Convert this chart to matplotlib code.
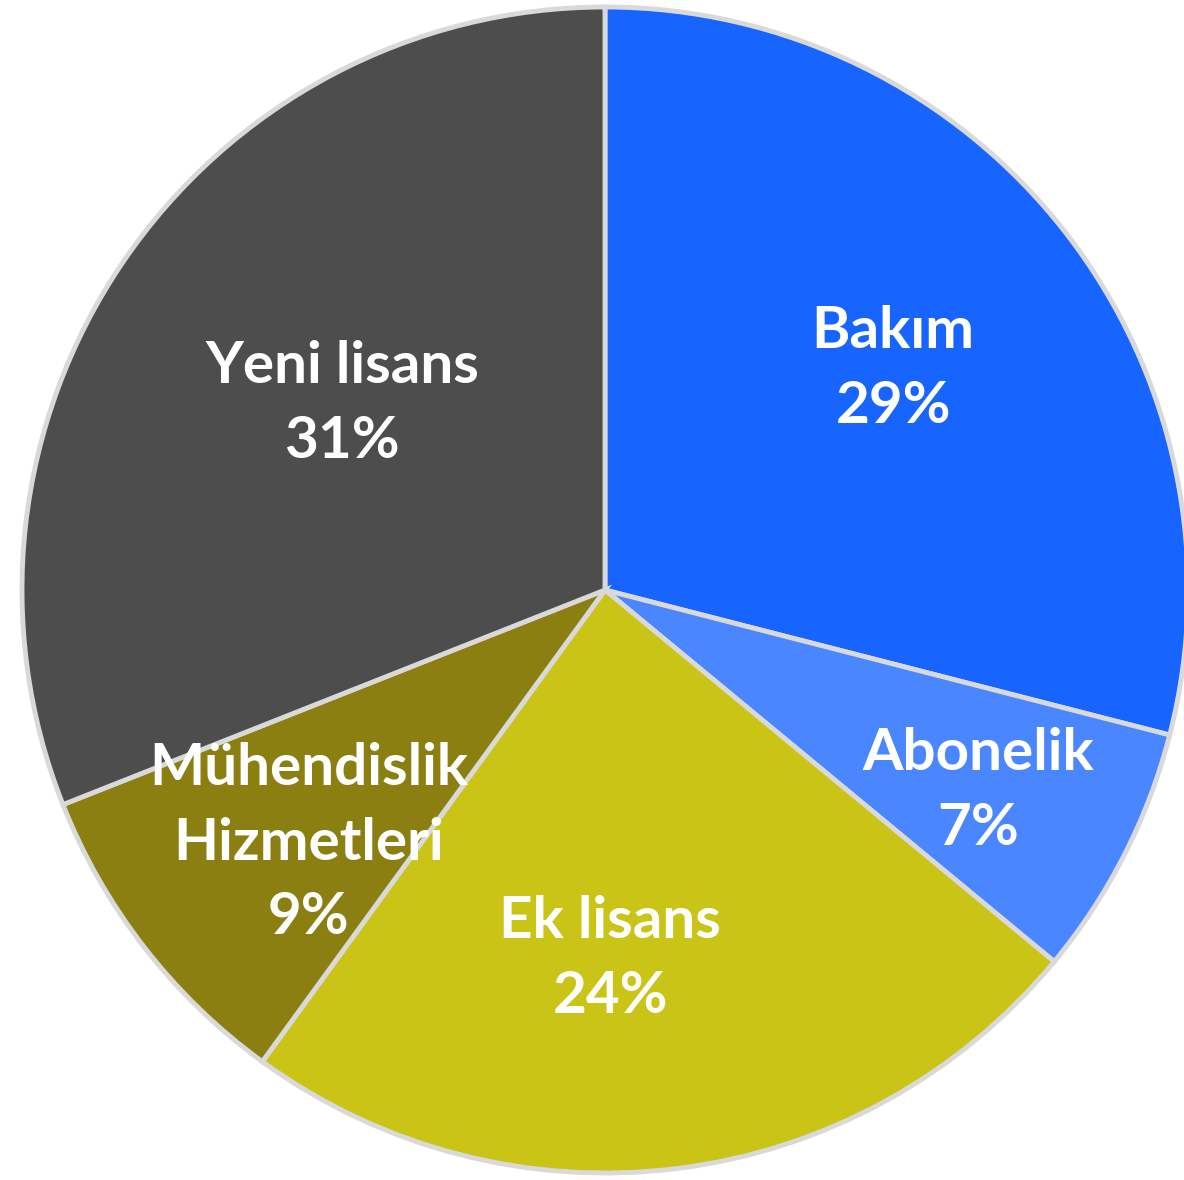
import matplotlib.pyplot as plt

# Slice data (clockwise from 12 o'clock)
labels = ['Bakım', 'Abonelik', 'Ek lisans', 'Mühendislik\nHizmetleri', 'Yeni lisans']
shares = [29, 7, 24, 9, 31]
colors = ['#1764FF', '#4A86FF', '#C9C415', '#8A7F10', '#4D4D4D']
# label centres, in units of the pie radius
label_x = [0.494, 0.640, 0.009, -0.509, -0.451]
label_y = [0.379, -0.345, -0.633, -0.434, 0.319]

fig = plt.figure(figsize=(11.84, 11.80), dpi=100)
ax = fig.add_axes([0, 0, 1, 1])

wedges, _ = ax.pie(shares, colors=colors, startangle=90, counterclock=False,
                   radius=1.0,
                   wedgeprops=dict(edgecolor='#D9D9D9', linewidth=3.5))

for lab, val, x, y in zip(labels, shares, label_x, label_y):
    ax.text(x, y, f'{lab}\n{val}%', ha='center', va='center',
            color='white', fontsize=42, fontweight='bold',
            family=['Lato', 'DejaVu Sans'], linespacing=1.5)

# centre at (605, 590) px, radius ~583 px
scale = 583.0
ax.set_aspect('auto')
ax.set_xlim(-605 / scale, (1184 - 605) / scale)
ax.set_ylim(-(1180 - 590) / scale, 590 / scale)
ax.axis('off')

fig.savefig('out.png', dpi=100, facecolor='white')
